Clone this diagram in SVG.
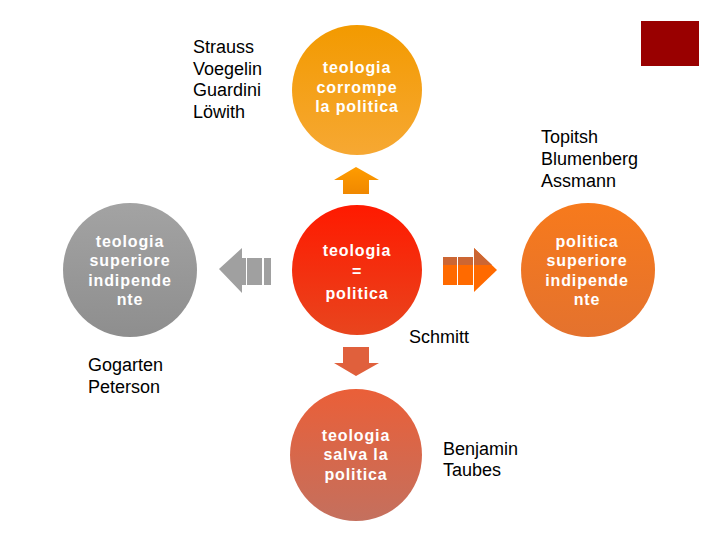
<svg xmlns="http://www.w3.org/2000/svg" width="720" height="540" viewBox="0 0 720 540">
<defs>
<linearGradient id="gTop" x1="0" y1="0" x2="0" y2="1"><stop offset="0" stop-color="#f39a00"/><stop offset="1" stop-color="#f6a833"/></linearGradient>
<linearGradient id="gCenter" x1="0" y1="0" x2="0" y2="1"><stop offset="0" stop-color="#ff1a00"/><stop offset="1" stop-color="#e8451e"/></linearGradient>
<linearGradient id="gLeft" x1="0" y1="0" x2="0" y2="1"><stop offset="0" stop-color="#a3a3a3"/><stop offset="1" stop-color="#8e8e8e"/></linearGradient>
<linearGradient id="gRight" x1="0" y1="0" x2="0" y2="1"><stop offset="0" stop-color="#f77a1c"/><stop offset="1" stop-color="#e4722e"/></linearGradient>
<linearGradient id="gBottom" x1="0" y1="0" x2="0" y2="1"><stop offset="0" stop-color="#ea5f38"/><stop offset="1" stop-color="#c4705e"/></linearGradient>
<linearGradient id="gUp" x1="0" y1="0" x2="0" y2="1"><stop offset="0" stop-color="#ff9c00"/><stop offset="1" stop-color="#f08800"/></linearGradient>
</defs>
<style>
.wt{font-family:"Liberation Sans",Arial,sans-serif;font-size:16px;font-weight:bold;fill:#ffffff;text-anchor:middle;letter-spacing:0.9px}
.bt{font-family:"Liberation Sans",Arial,sans-serif;font-size:18px;fill:#000000}
</style>
<rect width="720" height="540" fill="#ffffff"/>
<rect x="641" y="21" width="58" height="45" fill="#990000"/>

<g id="connectors">
<polygon points="356,167 379,180 369,180 369,194 343,194 343,180 334,180" fill="url(#gUp)"/>
<g fill="#a0a0a0">
<polygon points="219,269 242,248 242,258 246,258 246,285 242,285 242,293"/>
<rect x="247" y="258" width="15" height="27"/>
<rect x="264" y="258" width="7" height="27"/>
</g>
<g>
<rect x="443" y="257" width="14" height="28" fill="#ff6a00"/>
<rect x="458" y="257" width="15" height="28" fill="#ff6a00"/>
<polygon points="474,248 497,270 474,292" fill="#ff6a00"/>
<rect x="443" y="257" width="14" height="8" fill="#cc6633"/>
<rect x="458" y="257" width="15" height="8" fill="#cc6633"/>
<polygon points="474,248 474,265 492,265" fill="#cc6633"/>
</g>
<polygon points="343,347 369,347 369,363 379,363 356,376 334,363 343,363" fill="#e0603c"/>
</g>

<g id="node-top">
<circle cx="357" cy="90" r="65" fill="url(#gTop)"/>
<text class="wt" x="357" y="73">teologia</text>
<text class="wt" x="357" y="93">corrompe</text>
<text class="wt" x="357" y="112">la politica</text>
</g>
<g id="node-center">
<circle cx="357" cy="270" r="65" fill="url(#gCenter)"/>
<text class="wt" x="357" y="256">teologia</text>
<text class="wt" x="357" y="277">=</text>
<text class="wt" x="357" y="299">politica</text>
</g>
<g id="node-left">
<circle cx="130" cy="270" r="67" fill="url(#gLeft)"/>
<text class="wt" x="130" y="247">teologia</text>
<text class="wt" x="130" y="266">superiore</text>
<text class="wt" x="130" y="286">indipende</text>
<text class="wt" x="130" y="305">nte</text>
</g>
<g id="node-right">
<circle cx="588" cy="270" r="67" fill="url(#gRight)"/>
<text class="wt" x="587" y="247">politica</text>
<text class="wt" x="587" y="266">superiore</text>
<text class="wt" x="587" y="286">indipende</text>
<text class="wt" x="587" y="305">nte</text>
</g>
<g id="node-bottom">
<circle cx="356" cy="455" r="66" fill="url(#gBottom)"/>
<text class="wt" x="356" y="441">teologia</text>
<text class="wt" x="356" y="460">salva la</text>
<text class="wt" x="356" y="480">politica</text>
</g>

<g id="labels">
<text class="bt" x="193" y="53">Strauss</text>
<text class="bt" x="193" y="75">Voegelin</text>
<text class="bt" x="193" y="96">Guardini</text>
<text class="bt" x="193" y="118">Löwith</text>
<text class="bt" x="541" y="143">Topitsh</text>
<text class="bt" x="541" y="165">Blumenberg</text>
<text class="bt" x="541" y="187">Assmann</text>
<text class="bt" x="409" y="343">Schmitt</text>
<text class="bt" x="88" y="371">Gogarten</text>
<text class="bt" x="88" y="393">Peterson</text>
<text class="bt" x="443" y="455">Benjamin</text>
<text class="bt" x="443" y="476">Taubes</text>
</g>
</svg>
